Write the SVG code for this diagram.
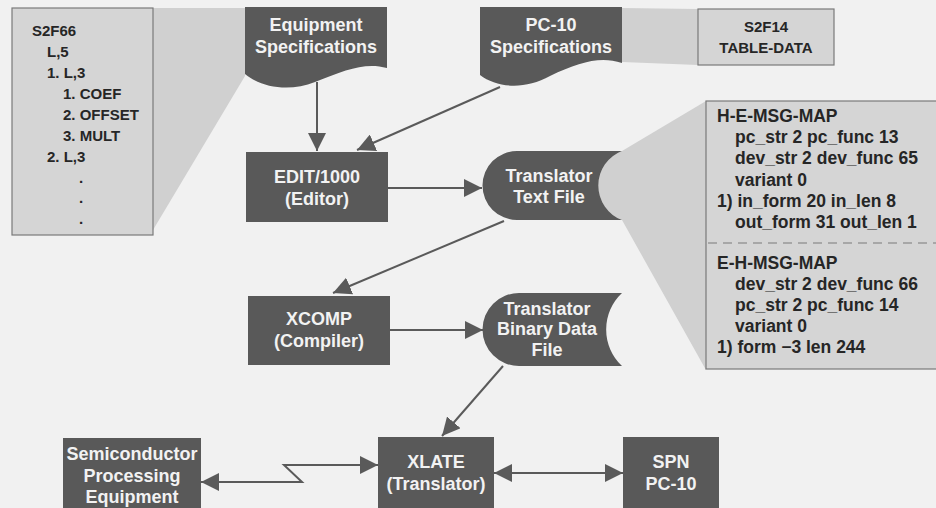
<svg xmlns="http://www.w3.org/2000/svg" width="936" height="508" viewBox="0 0 936 508">
<defs>
<style>
.node{fill:#595959}
.nt{font-family:"Liberation Sans",Arial,sans-serif;font-weight:bold;font-size:18px;fill:#f2f2f2;text-anchor:middle}
.call{fill:#d5d5d5;stroke:#7a7a7a;stroke-width:1.2}
.wedge{fill:#d0d0d0}
.ct{font-family:"Liberation Sans",Arial,sans-serif;font-weight:bold;font-size:15px;fill:#262626}
.mt{font-family:"Liberation Sans",Arial,sans-serif;font-weight:bold;font-size:17.5px;fill:#262626}
.ln{fill:none;stroke:#5a5a5a;stroke-width:2}
</style>
<marker id="ah" markerUnits="userSpaceOnUse" markerWidth="19" markerHeight="18" refX="18" refY="9" orient="auto-start-reverse">
<path d="M0,0 L18,9 L0,18 Z" fill="#5a5a5a"/>
</marker>
</defs>
<rect x="0" y="0" width="936" height="508" fill="#f1f1f1"/>

<g id="callout-s2f66">
<polygon class="wedge" points="153,8 245,8 245,76 153,230"/>
<rect class="call" x="12" y="8" width="141" height="227"/>
<text class="ct" x="32" y="36">S2F66</text>
<text class="ct" x="47" y="57">L,5</text>
<text class="ct" x="47" y="78">1. L,3</text>
<text class="ct" x="63" y="99">1. COEF</text>
<text class="ct" x="63" y="120">2. OFFSET</text>
<text class="ct" x="63" y="141">3. MULT</text>
<text class="ct" x="47" y="162">2. L,3</text>
<text class="ct" x="79" y="183">.</text>
<text class="ct" x="79" y="203">.</text>
<text class="ct" x="79" y="224">.</text>
</g>

<g id="callout-s2f14">
<polygon class="wedge" points="622,8 698,9 698,65 622,62"/>
<rect class="call" x="698" y="9" width="136" height="56"/>
<text class="ct" x="766" y="32" text-anchor="middle">S2F14</text>
<text class="ct" x="766" y="53" text-anchor="middle">TABLE-DATA</text>
</g>

<g id="callout-msgmap">
<path class="wedge" d="M622,151 L706,101 L706,370 L622,220 A37,37 0 0 1 622,151 Z"/>
<rect class="call" x="706" y="101" width="240" height="268"/>
<line x1="708" y1="243" x2="936" y2="243" stroke="#7a7a7a" stroke-width="1.2" stroke-dasharray="9 6"/>
<text class="mt" x="717" y="122">H-E-MSG-MAP</text>
<text class="mt" x="735" y="143">pc_str 2 pc_func 13</text>
<text class="mt" x="735" y="164">dev_str 2 dev_func 65</text>
<text class="mt" x="735" y="186">variant 0</text>
<text class="mt" x="717" y="207">1) in_form 20 in_len 8</text>
<text class="mt" x="735" y="228">out_form 31 out_len 1</text>
<text class="mt" x="717" y="269">E-H-MSG-MAP</text>
<text class="mt" x="735" y="290">dev_str 2 dev_func 66</text>
<text class="mt" x="735" y="311">pc_str 2 pc_func 14</text>
<text class="mt" x="735" y="332">variant 0</text>
<text class="mt" x="717" y="353">1) form −3 len 244</text>
</g>

<g id="equip-spec">
<path class="node" d="M245,7 H387 V68 C365,62 345,70 315,82 C290,92 262,88 245,74 Z"/>
<text class="nt" x="316" y="31">Equipment</text>
<text class="nt" x="316" y="53">Specifications</text>
</g>

<g id="pc10-spec">
<path class="node" d="M480,7 H622 V63 C600,56 580,62 550,76 C525,90 497,88 480,75 Z"/>
<text class="nt" x="551" y="31">PC-10</text>
<text class="nt" x="551" y="53">Specifications</text>
</g>

<g id="edit">
<rect class="node" x="246" y="152" width="142" height="70"/>
<text class="nt" x="317" y="183">EDIT/1000</text>
<text class="nt" x="317" y="205">(Editor)</text>
</g>

<g id="text-file">
<path class="node" d="M517,151 H622 A37,37 0 0 0 622,220 H517 A34.5,34.5 0 0 1 517,151 Z"/>
<text class="nt" x="549" y="182">Translator</text>
<text class="nt" x="549" y="203">Text File</text>
</g>

<g id="xcomp">
<rect class="node" x="248" y="296" width="142" height="69"/>
<text class="nt" x="319" y="325">XCOMP</text>
<text class="nt" x="319" y="347">(Compiler)</text>
</g>

<g id="binary-file">
<path class="node" d="M519,293 H622 A50,50 0 0 0 622,366 H519 A36.5,36.5 0 0 1 519,293 Z"/>
<text class="nt" x="547" y="315">Translator</text>
<text class="nt" x="547" y="335">Binary Data</text>
<text class="nt" x="547" y="356">File</text>
</g>

<g id="semi">
<rect class="node" x="63" y="438" width="138" height="75"/>
<text class="nt" x="132" y="460">Semiconductor</text>
<text class="nt" x="132" y="482">Processing</text>
<text class="nt" x="132" y="503">Equipment</text>
</g>

<g id="xlate">
<rect class="node" x="378" y="437" width="116" height="76"/>
<text class="nt" x="436" y="468">XLATE</text>
<text class="nt" x="436" y="490">(Translator)</text>
</g>

<g id="spn">
<rect class="node" x="623" y="437" width="96" height="76"/>
<text class="nt" x="671" y="468">SPN</text>
<text class="nt" x="671" y="490">PC-10</text>
</g>

<g id="connectors">
<line class="ln" x1="317" y1="82" x2="317" y2="151" marker-end="url(#ah)"/>
<line class="ln" x1="500" y1="87" x2="357" y2="150" marker-end="url(#ah)"/>
<line class="ln" x1="388" y1="188" x2="482" y2="188" marker-end="url(#ah)"/>
<line class="ln" x1="504" y1="221" x2="333" y2="293" marker-end="url(#ah)"/>
<line class="ln" x1="390" y1="330" x2="483" y2="330" marker-end="url(#ah)"/>
<line class="ln" x1="503" y1="366" x2="442" y2="436" marker-end="url(#ah)"/>
<line class="ln" x1="494" y1="473" x2="623" y2="473" marker-start="url(#ah)" marker-end="url(#ah)"/>
<path class="ln" d="M201,482 H302 L284,465 H378" marker-start="url(#ah)" marker-end="url(#ah)"/>
</g>
</svg>
